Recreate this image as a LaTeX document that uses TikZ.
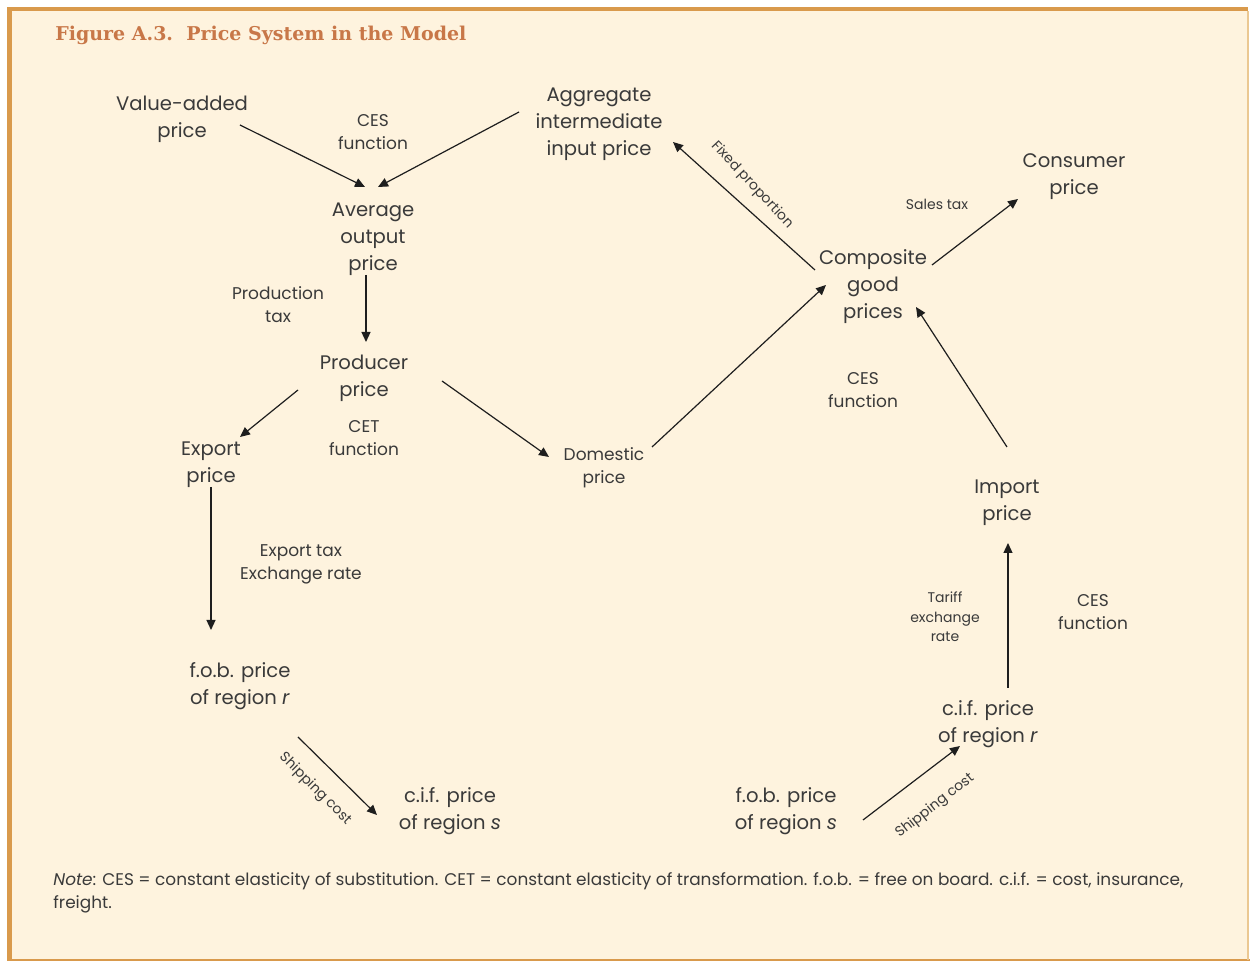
\documentclass[tikz,border=0pt]{standalone}
\usepackage{fontspec}
\setmainfont{Poppins}
\newfontfamily\titlefont{DejaVu Serif}
\usetikzlibrary{arrows.meta}
\definecolor{bord}{HTML}{D99A4C}
\definecolor{bordlight}{HTML}{EBC892}
\definecolor{cream}{HTML}{FEF3DE}
\definecolor{titlec}{HTML}{C87748}
\definecolor{txt}{HTML}{3A3A3A}
\definecolor{arrc}{HTML}{1E1E1E}
\begin{document}
\begin{tikzpicture}[x=0.5pt,y=-0.5pt,
  lbl/.style={align=center, text=txt, inner sep=0pt},
  big/.style={lbl, font=\fontsize{9.8}{13.5}\selectfont},
  small/.style={lbl, font=\fontsize{8.5}{11.5}\selectfont},
  tiny/.style={lbl, font=\fontsize{7}{9.75}\selectfont},
  arrow/.style={draw=arrc, line width=0.6pt, -{Triangle[length=5pt,width=4.5pt]}}]
\useasboundingbox (0,0) rectangle (1250,961);
\fill[white] (0,0) rectangle (1250,961);
\fill[cream] (12,11) rectangle (1248,960);
\fill[bord] (7,7) rectangle (1248,11);
\fill[bord] (7,7) rectangle (12,961);
\fill[bord] (7,959.5) rectangle (1250,961);
\fill[bordlight] (1247,11) rectangle (1249,960);

\node[anchor=base west, inner sep=0pt, text=titlec, font=\titlefont\bfseries\fontsize{9.5}{11}\selectfont] (title) at (55,41) {Figure A.3.\ \ Price System in the Model};

\node[big] (va) at (182,119) {Value-added\\price};
\node[small] (ces1) at (373,132) {CES\\function};
\node[big] (agg) at (599,124) {Aggregate\\intermediate\\input price};
\node[big] (avg) at (373,239) {Average\\output\\price};
\node[big] (cons) at (1074,177) {Consumer\\price};
\node[tiny] (sales) at (937,204) {Sales tax};
\node[big] (comp) at (873,287) {Composite\\good\\prices};
\node[small] (ptax) at (278,305) {Production\\tax};
\node[big] (prod) at (364,378) {Producer\\price};
\node[big] (exp) at (211,465) {Export\\price};
\node[small] (cet) at (364,438) {CET\\function};
\node[small] (dom) at (604,468) {Domestic\\price};
\node[small] (ces2) at (863,390) {CES\\function};
\node[big] (imp) at (1007,503) {Import\\price};
\node[small] (etax) at (301,564) {Export tax\\Exchange rate};
\node[big] (fobr) at (240,686) {f.o.b. price\\of region \textit{r}};
\node[big] (cifs) at (450,811) {c.i.f. price\\of region \textit{s}};
\node[big] (fobs) at (786,811) {f.o.b. price\\of region \textit{s}};
\node[big] (cifr) at (988,724) {c.i.f. price\\of region \textit{r}};
\node[tiny] (tariff) at (945,617) {Tariff\\exchange\\rate};
\node[small] (ces3) at (1093,612) {CES\\function};
\node[tiny, rotate=-47] (fixed) at (752,185) {Fixed proportion};
\node[tiny, rotate=-45] (ship1) at (315,789) {Shipping cost};
\node[tiny, rotate=38] (ship2) at (935,806) {Shipping cost};

\draw[arrow] ([shift={(58,6)}]va.center) -- ([shift={(-8,-52)}]avg.center);
\draw[arrow] ([shift={(-80,-12)}]agg.center) -- ([shift={(5,-52)}]avg.center);
\draw[arrow] ([shift={(-7,36)}]avg.center) -- ([shift={(2,-36)}]prod.center);
\draw[arrow] ([shift={(-66,12)}]prod.center) -- ([shift={(29,-28)}]exp.center);
\draw[arrow] ([shift={(78,3)}]prod.center) -- ([shift={(-55,-11)}]dom.center);
\draw[arrow] ([shift={(48,-21)}]dom.center) -- ([shift={(-47,-2)}]comp.center);
\draw[arrow] ([shift={(-58,-17)}]comp.center) -- ([shift={(74,18)}]agg.center);
\draw[arrow] ([shift={(59,-22)}]comp.center) -- ([shift={(-56,22)}]cons.center);
\draw[arrow] ([shift={(0,-56)}]imp.center) -- ([shift={(43,20)}]comp.center);
\draw[arrow] ([shift={(0,22)}]exp.center) -- ([shift={(-29,-56)}]fobr.center);
\draw[arrow] ([shift={(58,51)}]fobr.center) -- ([shift={(-73,4)}]cifs.center);
\draw[arrow] ([shift={(77,9)}]fobs.center) -- ([shift={(-28,22)}]cifr.center);
\draw[arrow] ([shift={(20,-36)}]cifr.center) -- ([shift={(1,40)}]imp.center);

\node[anchor=base west, align=left, text=txt, inner sep=0pt, font=\fontsize{8.45}{11.5}\selectfont] (note) at (53,909) {\textit{Note}: CES = constant elasticity of substitution. CET = constant elasticity of transformation. f.o.b. = free on board. c.i.f. = cost, insurance,\\freight.};
\end{tikzpicture}
\end{document}
